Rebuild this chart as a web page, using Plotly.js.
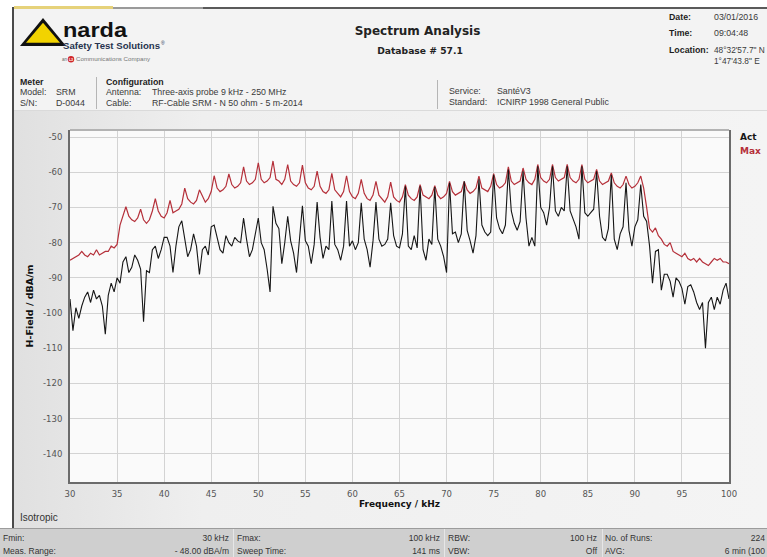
<!DOCTYPE html>
<html>
<head>
<meta charset="utf-8">
<script src="https://cdn.plot.ly/plotly-3.0.1.min.js"></script>
<style>
html,body{margin:0;padding:0;width:767px;height:557px;overflow:hidden;background:#fff;}
#bg,#fg{position:absolute;left:0;top:0;}
#bg{z-index:0;} #chart{position:absolute;left:0;top:0;width:767px;height:557px;z-index:1;} #fg{z-index:2;pointer-events:none;}
.s{font-family:"Liberation Sans",Arial,sans-serif;font-size:8.8px;fill:#3a3a3a;}
.sb{font-family:"Liberation Sans",Arial,sans-serif;font-size:8.8px;font-weight:bold;fill:#1e1e1e;}
.h{font-family:"DejaVu Sans",Verdana,sans-serif;font-weight:bold;fill:#222;}
.f{font-family:"Liberation Sans",Arial,sans-serif;font-size:8.5px;fill:#333;}
</style>
</head>
<body>
<svg id="bg" width="767" height="557" xmlns="http://www.w3.org/2000/svg">
  <defs>
    <linearGradient id="panel" x1="0" y1="0" x2="1" y2="0">
      <stop offset="0" stop-color="#e0e0e0"/>
      <stop offset="0.25" stop-color="#efefef"/>
      <stop offset="1" stop-color="#f4f4f4"/>
    </linearGradient>
  </defs>
  <rect x="0" y="0" width="767" height="557" fill="#ffffff"/>
  <rect x="14" y="9" width="753" height="101" fill="#f3f3f3"/>
  <rect x="14" y="110" width="753" height="1" fill="#dadada"/>
  <rect x="14" y="111" width="753" height="417" fill="url(#panel)"/>
  <rect x="14" y="7" width="753" height="2" fill="#5a5a5a"/>
  <rect x="113" y="7" width="90" height="2" fill="#9a9a9a"/>
  <rect x="14" y="6" width="99" height="3" fill="#e6d27a"/>
  <rect x="12" y="7" width="2" height="521" fill="#4a4a4a"/>
  <rect x="96" y="77" width="1" height="32" fill="#b5b5b5"/>
  <rect x="437" y="80" width="1" height="29" fill="#b5b5b5"/>
  <rect x="0" y="528" width="767" height="1" fill="#9c9c9c"/>
  <rect x="0" y="529" width="767" height="28" fill="#cfcfcf"/>
  <rect x="233" y="529" width="1" height="28" fill="#e6e6e6"/>
  <rect x="444" y="529" width="1" height="28" fill="#e6e6e6"/>
  <rect x="602" y="529" width="1" height="28" fill="#e6e6e6"/>
</svg>
<div id="chart"></div>
<svg id="fg" width="767" height="557" xmlns="http://www.w3.org/2000/svg">
  <!-- logo -->
  <polygon points="20,46 43,18 66,46" fill="#111"/>
  <polygon points="26,42.8 43,22.8 60,42.8" fill="#f2d300"/>
  <text x="63" y="36.5" font-family="Liberation Sans,Arial" font-weight="bold" font-size="20" fill="#111" textLength="64" lengthAdjust="spacingAndGlyphs">narda</text>
  <text x="63" y="49" font-family="Liberation Sans,Arial" font-weight="bold" font-size="8.5" fill="#27344f" textLength="97" lengthAdjust="spacingAndGlyphs">Safety Test Solutions</text>
  <text x="161" y="44.5" font-family="Liberation Sans,Arial" font-size="5" fill="#27344f">®</text>
  <text x="62" y="61" font-family="Liberation Sans,Arial" font-size="4.5" fill="#666">an</text>
  <circle cx="71" cy="59.3" r="3.2" fill="#d0262b"/>
  <text x="71" y="60.6" font-family="Liberation Sans,Arial" font-weight="bold" font-size="3.6" fill="#fff" text-anchor="middle">L3</text>
  <text x="76" y="61" font-family="Liberation Sans,Arial" font-size="4.6" fill="#777" textLength="74" lengthAdjust="spacingAndGlyphs">Communications Company</text>
  <!-- title -->
  <text class="h" x="417.5" y="35" font-size="12" text-anchor="middle">Spectrum Analysis</text>
  <text class="h" x="420" y="54" font-size="9.2" text-anchor="middle">Database # 57.1</text>
  <!-- date block -->
  <text class="sb" x="669" y="20">Date:</text><text class="s" x="714" y="20">03/01/2016</text>
  <text class="sb" x="669" y="36">Time:</text><text class="s" x="714" y="36">09:04:48</text>
  <text class="sb" x="669" y="53">Location:</text><text class="s" x="714" y="53" style="font-size:8.3px">48°32'57.7" N</text>
  <text class="s" x="714" y="64" style="font-size:8.3px">1°47'43.8" E</text>
  <!-- meter / configuration -->
  <text class="sb" x="20" y="84.5">Meter</text>
  <text class="s" x="20" y="94.5">Model:</text><text class="s" x="56" y="94.5">SRM</text>
  <text class="s" x="20" y="105.5">S/N:</text><text class="s" x="56" y="105.5">D-0044</text>
  <text class="sb" x="106" y="84.5">Configuration</text>
  <text class="s" x="106" y="94.5">Antenna:</text><text class="s" x="152" y="94.5">Three-axis probe 9 kHz - 250 MHz</text>
  <text class="s" x="106" y="105.5">Cable:</text><text class="s" x="152" y="105.5">RF-Cable SRM - N 50 ohm - 5 m-2014</text>
  <text class="s" x="449" y="94">Service:</text><text class="s" x="497" y="94">SantéV3</text>
  <text class="s" x="449" y="105">Standard:</text><text class="s" x="497" y="105">ICNIRP 1998 General Public</text>
  <!-- bottom -->
  <text x="20" y="521" font-family="Liberation Sans,Arial" font-size="10" fill="#333">Isotropic</text>
  <text class="f" x="3" y="540.5">Fmin:</text><text class="f" x="229" y="540.5" text-anchor="end">30 kHz</text>
  <text class="f" x="237" y="540.5">Fmax:</text><text class="f" x="440" y="540.5" text-anchor="end">100 kHz</text>
  <text class="f" x="448" y="540.5">RBW:</text><text class="f" x="597" y="540.5" text-anchor="end">100 Hz</text>
  <text class="f" x="605" y="540.5">No. of Runs:</text><text class="f" x="765" y="540.5" text-anchor="end">224</text>
  <text class="f" x="3" y="554">Meas. Range:</text><text class="f" x="229" y="554" text-anchor="end">- 48.00 dBA/m</text>
  <text class="f" x="237" y="554">Sweep Time:</text><text class="f" x="440" y="554" text-anchor="end">141 ms</text>
  <text class="f" x="448" y="554">VBW:</text><text class="f" x="597" y="554" text-anchor="end">Off</text>
  <text class="f" x="605" y="554">AVG:</text><text class="f" x="765" y="554" text-anchor="end">6 min  (100</text>
</svg>
<script>
// Sweep: Fmin 30 kHz, Fmax 100 kHz, 225 points
const freqStartKHz = 30;
const freqStepKHz = 0.3125;
const yTickVals = [-50, -60, -70, -80, -90, -100, -110, -120, -130, -140];
const xTickVals = [30, 35, 40, 45, 50, 55, 60, 65, 70, 75, 80, 85, 90, 95, 100];
const seriesNames = ['Act', 'Max'];

// Max hold trace (dBA/m)
const maxHold = [
 -85.0,-84.5,-84.0,-83.5,-82.5,
 -83.5,-84.0,-83.0,-83.5,-82.0,
 -83.5,-83.0,-82.5,-82.5,-81.0,
 -81.5,-80.5,-75.0,-72.0,-69.8,
 -72.5,-73.5,-74.0,-73.0,-70.5,
 -73.5,-74.5,-73.5,-71.0,-67.5,
 -71.0,-72.5,-73.0,-71.5,-68.0,
 -71.5,-71.0,-70.5,-69.0,-64.5,
 -67.5,-68.5,-69.0,-68.0,-65.0,
 -67.0,-68.5,-67.5,-65.5,-61.0,
 -64.5,-65.5,-65.0,-64.0,-60.5,
 -63.5,-64.5,-64.0,-63.0,-58.5,
 -62.5,-63.5,-63.0,-62.0,-57.3,
 -62.0,-63.0,-62.5,-61.5,-56.8,
 -62.0,-62.5,-63.5,-62.0,-57.8,
 -62.5,-63.5,-64.0,-63.0,-58.0,
 -63.0,-64.5,-65.0,-64.0,-59.7,
 -64.0,-65.5,-66.0,-65.0,-60.3,
 -65.0,-66.0,-67.0,-65.5,-61.0,
 -65.5,-67.0,-67.5,-66.0,-62.0,
 -66.0,-67.5,-68.0,-66.5,-62.6,
 -66.5,-67.5,-68.5,-67.0,-62.8,
 -67.0,-68.0,-68.5,-67.0,-63.5,
 -66.5,-67.5,-68.0,-67.0,-63.5,
 -66.5,-67.0,-67.5,-66.5,-63.8,
 -66.5,-67.5,-67.0,-66.0,-62.6,
 -65.5,-66.5,-66.0,-65.5,-62.6,
 -65.0,-66.0,-65.5,-64.5,-61.1,
 -64.5,-65.0,-65.5,-64.0,-60.4,
 -63.5,-64.5,-64.0,-63.0,-58.5,
 -62.5,-63.5,-63.0,-62.5,-58.8,
 -62.0,-63.0,-63.5,-62.0,-57.8,
 -61.5,-62.5,-63.0,-62.0,-57.8,
 -61.5,-62.5,-62.0,-61.5,-57.8,
 -61.5,-62.5,-63.0,-62.0,-57.8,
 -62.0,-63.0,-62.5,-62.0,-59.2,
 -62.5,-63.5,-63.0,-62.5,-60.2,
 -63.0,-64.0,-64.5,-63.5,-61.1,
 -63.5,-64.5,-64.0,-63.0,-61.1,
 -64.5,-70.0,-76.0,-77.0,-75.8,
 -78.0,-79.0,-80.5,-81.0,-80.0,
 -82.5,-83.0,-83.5,-84.0,-83.0,
 -84.5,-85.0,-84.5,-85.5,-84.5,
 -85.5,-86.0,-86.5,-85.5,-84.5,
 -85.0,-84.5,-85.5,-85.5,-86.0
];

// Actual trace (dBA/m)
const actual = [
 -96.0,-105.0,-98.5,-101.5,-98.0,
 -95.5,-94.0,-97.0,-93.5,-96.0,
 -95.0,-98.0,-106.0,-95.0,-91.5,
 -94.0,-90.0,-91.5,-85.5,-84.0,
 -88.5,-87.0,-83.5,-85.0,-87.5,
 -102.5,-88.0,-88.5,-82.0,-81.0,
 -84.5,-82.0,-78.5,-78.5,-81.0,
 -88.5,-81.0,-75.5,-73.8,-79.0,
 -84.0,-82.0,-77.5,-81.0,-89.0,
 -82.0,-81.0,-83.5,-75.5,-75.0,
 -79.0,-82.0,-83.0,-78.0,-80.0,
 -81.0,-78.5,-79.5,-80.0,-73.0,
 -79.0,-84.0,-82.0,-78.0,-73.0,
 -80.0,-82.0,-87.5,-94.0,-69.7,
 -74.5,-76.0,-86.0,-80.0,-72.5,
 -79.5,-83.0,-88.5,-80.0,-69.5,
 -79.5,-81.0,-86.0,-80.5,-68.5,
 -78.5,-84.5,-81.0,-82.0,-68.2,
 -80.5,-82.0,-85.0,-81.0,-68.2,
 -81.0,-79.5,-82.0,-80.0,-68.7,
 -79.0,-82.0,-87.0,-79.5,-68.5,
 -79.0,-81.0,-80.5,-79.0,-68.7,
 -78.0,-81.0,-81.5,-77.5,-64.0,
 -81.0,-82.0,-78.0,-81.5,-64.0,
 -82.0,-85.0,-79.0,-80.5,-64.2,
 -79.0,-81.0,-84.0,-88.5,-63.0,
 -77.5,-77.0,-80.0,-77.5,-62.6,
 -76.5,-79.5,-83.0,-78.0,-62.0,
 -75.0,-77.0,-78.0,-77.0,-60.7,
 -73.0,-76.0,-77.5,-75.0,-59.2,
 -71.0,-74.5,-76.5,-74.0,-59.7,
 -73.0,-81.0,-78.5,-81.0,-58.3,
 -70.0,-71.5,-75.0,-70.0,-58.3,
 -71.0,-72.5,-70.0,-71.0,-58.3,
 -71.0,-73.5,-75.5,-79.0,-58.3,
 -71.5,-72.5,-71.5,-70.5,-59.7,
 -72.5,-78.5,-79.5,-76.0,-60.7,
 -79.0,-82.0,-77.5,-75.5,-63.0,
 -76.5,-81.0,-75.5,-73.5,-63.5,
 -72.5,-74.0,-81.0,-91.5,-82.5,
 -82.0,-93.5,-89.0,-89.0,-91.0,
 -95.5,-90.0,-91.0,-93.0,-97.5,
 -92.5,-92.0,-94.0,-97.0,-99.0,
 -97.0,-110.0,-97.0,-95.5,-99.0,
 -95.5,-97.5,-93.5,-91.5,-96.0
];

const colors = {act: '#161616', max: '#b5303a'};

const traces = [
  {type: 'scatter', mode: 'lines', name: seriesNames[1], x0: freqStartKHz, dx: freqStepKHz, y: maxHold,
   line: {color: colors.max, width: 1.2}, hoverinfo: 'skip'},
  {type: 'scatter', mode: 'lines', name: seriesNames[0], x0: freqStartKHz, dx: freqStepKHz, y: actual,
   line: {color: colors.act, width: 1.1}, hoverinfo: 'skip'}
];

const tickFont = {family: 'DejaVu Sans, Verdana, sans-serif', size: 8.5, color: '#555'};
const titleFont = {family: 'DejaVu Sans, Verdana, sans-serif', size: 9, color: '#111'};

const layout = {
  width: 767, height: 557,
  margin: {l: 70, r: 38, t: 130, b: 75, pad: 0},
  paper_bgcolor: 'rgba(0,0,0,0)',
  plot_bgcolor: '#fafafa',
  showlegend: false,
  xaxis: {
    range: [30, 100], tickvals: xTickVals, ticktext: xTickVals.map(String),
    showgrid: true, gridcolor: '#d3d3d3', gridwidth: 1, zeroline: false,
    showline: true, linecolor: '#6b6b6b', linewidth: 2, mirror: false,
    ticks: 'outside', ticklen: 3, tickcolor: 'rgba(0,0,0,0)', tickfont: tickFont,
    title: {text: '<b>Frequency / kHz</b>', font: titleFont, standoff: 2},
    automargin: false, fixedrange: true
  },
  yaxis: {
    range: [-148, -48], tickvals: yTickVals, ticktext: yTickVals.map(String),
    showgrid: true, gridcolor: '#d3d3d3', gridwidth: 1, zeroline: false,
    showline: true, linecolor: '#6b6b6b', linewidth: 2, mirror: true,
    ticks: 'outside', ticklen: 4, tickcolor: 'rgba(0,0,0,0)', tickfont: tickFont,
    title: {text: '<b>H-Field / dBA/m</b>', font: {family: titleFont.family, size: 9.5, color: '#111'}, standoff: 8},
    automargin: false, fixedrange: true
  },
  shapes: [
    {type: 'line', xref: 'paper', yref: 'paper', x0: 0, x1: 1, y0: 1, y1: 1, line: {color: '#b3b3b3', width: 2}}
  ],
  annotations: [
    {xref: 'paper', yref: 'paper', x: 1.0137, y: 0.98, xanchor: 'left', yanchor: 'middle', showarrow: false,
     text: '<b>' + seriesNames[0] + '</b>', font: {family: titleFont.family, size: 9, color: colors.act}},
    {xref: 'paper', yref: 'paper', x: 1.0137, y: 0.94, xanchor: 'left', yanchor: 'middle', showarrow: false,
     text: '<b>' + seriesNames[1] + '</b>', font: {family: titleFont.family, size: 9, color: colors.max}}
  ]
};

Plotly.newPlot('chart', traces, layout, {staticPlot: true, displayModeBar: false});
</script>
</body>
</html>
